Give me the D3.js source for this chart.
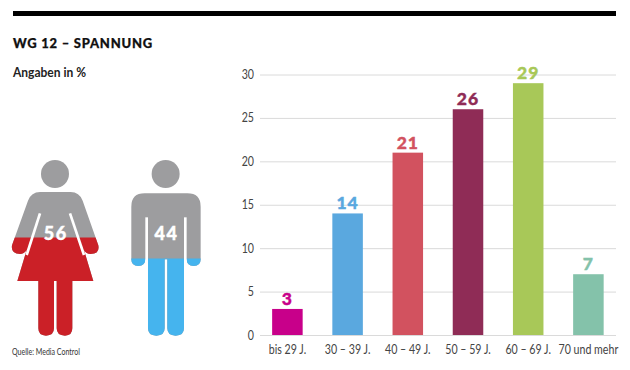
<!DOCTYPE html>
<html>
<head>
<meta charset="utf-8">
<script src="https://cdn.jsdelivr.net/npm/d3@7"></script>
<style>
  html, body { margin: 0; padding: 0; background: #fff; }
  svg { display: block; }
</style>
</head>
<body>
<div id="chart"></div>
<script>
// Age groups
const AGE_LABELS = ["bis 29 J.", "30 – 39 J.", "40 – 49 J.", "50 – 59 J.", "60 – 69 J.", "70 und mehr"];
const AGE_VALUES = [3, 14, 21, 26, 29, 7];
const AGE_COLORS = ["#C8008A", "#5AA8DF", "#D2525F", "#8F2C56", "#A8C858", "#84C2AA"];
const Y_TICKS = [0, 5, 10, 15, 20, 25, 30];

// Gender split
const GENDER_KEYS = ["f", "m"];
const GENDER_VALUES = [56, 44];
const GENDER_COLORS = ["#CB2027", "#45B4EE"];

const GREY = "#9D9D9F";
const FONT = "Lato,sans-serif";

// no condensed face is installed, so squeeze the glyphs horizontally
function condense(sel, k) {
  sel.each(function () {
    this.setAttribute("textLength", this.getComputedTextLength() * k);
    this.setAttribute("lengthAdjust", "spacingAndGlyphs");
  });
  return sel;
}

const svg = d3.select("#chart").append("svg").attr("width", 630).attr("height", 370);

// ── Header ──────────────────────────────────
svg.append("rect").attr("x", 13).attr("y", 11).attr("width", 603).attr("height", 5).attr("fill", "#000");

svg.append("text").attr("x", 13).attr("y", 48)
  .attr("font-family", FONT).attr("font-weight", 900)
  .attr("font-size", "13px").attr("letter-spacing", "0.75px").attr("fill", "#111")
  .attr("stroke", "#111").attr("stroke-width", 0.25)
  .text("WG 12 – SPANNUNG");

svg.append("text").attr("x", 13).attr("y", 76.5)
  .attr("font-family", FONT).attr("font-weight", 700)
  .attr("font-size", "13.5px").attr("fill", "#222")
  .text("Angaben in %")
  .call(condense, 0.89);

svg.append("text").attr("x", 12).attr("y", 355)
  .attr("font-family", FONT).attr("font-size", "9.5px").attr("fill", "#333")
  .text("Quelle: Media Control")
  .call(condense, 0.74);

// ── Bars ────────────────────────────────────
const x = d3.scaleBand().domain(AGE_LABELS).range([257.3, 618.5]).paddingInner(0.493).paddingOuter(0.2465);
const y = d3.scaleLinear().domain([0, 30]).range([335, 74.5]);

const yAxis = svg.append("g").attr("transform", "translate(260,0)")
  .call(d3.axisLeft(y).tickValues(Y_TICKS).tickSize(-356).tickPadding(6));
yAxis.select(".domain").remove();
yAxis.selectAll(".tick line").attr("stroke", "#DADADA").attr("stroke-width", 1);
yAxis.selectAll("text")
  .attr("font-family", FONT).attr("font-size", "12.5px").attr("fill", "#444")
  .call(condense, 0.85);

svg.selectAll(".bar").data(AGE_VALUES).join("rect")
  .attr("class", "bar")
  .attr("x", (d, i) => x(AGE_LABELS[i]))
  .attr("y", d => y(d))
  .attr("width", x.bandwidth())
  .attr("height", d => y(0) - y(d))
  .attr("fill", (d, i) => AGE_COLORS[i]);

svg.selectAll(".val").data(AGE_VALUES).join("text")
  .attr("class", "val")
  .attr("x", (d, i) => x(AGE_LABELS[i]) + x.bandwidth() / 2)
  .attr("y", d => y(d) - 4)
  .attr("text-anchor", "middle")
  .attr("font-family", FONT).attr("font-weight", 900)
  .attr("font-size", "17.5px").attr("letter-spacing", "1px")
  .attr("fill", (d, i) => AGE_COLORS[i])
  .attr("stroke", (d, i) => AGE_COLORS[i]).attr("stroke-width", 0.4)
  .text(d => d);

const xAxis = svg.append("g").attr("transform", "translate(0,335)")
  .call(d3.axisBottom(x).tickSize(0).tickPadding(10));
xAxis.select(".domain").remove();
xAxis.selectAll("text")
  .attr("font-family", FONT).attr("font-size", "12.5px").attr("fill", "#444")
  .call(condense, 0.85);

// ── Pictograms ──────────────────────────────
// silhouettes are drawn in a 3x grid, so they get scaled down by 1/3
const SHAPES = {
  f: {
    head: [165, 102, 42],
    body: "M120,156 L212,156 Q238,156 248,182 L295,316 Q300,342 272,342 Q258,342 252,330 L280,423 L217,423 " +
          "L217,565 Q217,587 195,587 Q170,587 170,565 L170,423 L162,423 L162,565 Q162,587 138,587 Q115,587 115,565 " +
          "L115,423 L52,423 L80,330 Q72,342 60,342 Q32,342 36,316 L84,182 Q94,156 120,156 Z",
    slits: ["M120,220 L80,345", "M210,220 L252,345"]
  },
  m: {
    head: [497, 102, 42],
    body: "M434,160 L562,160 Q602,160 602,200 L602,358 Q602,378 581,378 Q560,378 560,358 L552,358 L552,565 " +
          "Q552,587 527,587 Q502,587 502,565 L502,358 L494,358 L494,565 Q494,587 469,587 Q444,587 444,565 L444,358 " +
          "L436,358 Q436,378 415,378 Q394,378 394,358 L394,200 Q394,160 434,160 Z",
    slits: ["M440,232 L440,380", "M556,232 L556,380"]
  }
};

// fill level runs up the figure from feet to the top of the head
const level = d3.scaleLinear().domain([0, 100]).range([336, 160]);

const defs = svg.append("defs");

GENDER_KEYS.forEach((key, i) => {
  const shape = SHAPES[key];
  defs.append("clipPath").attr("id", `fill-${key}`)
    .append("rect").attr("x", 0).attr("width", 220)
    .attr("y", level(GENDER_VALUES[i]))
    .attr("height", level(0) - level(GENDER_VALUES[i]));

  const draw = (parent, color) => {
    const g = parent.append("g").attr("transform", "translate(0,140) scale(0.3333)");
    g.append("circle").attr("cx", shape.head[0]).attr("cy", shape.head[1]).attr("r", shape.head[2]).attr("fill", color);
    g.append("path").attr("d", shape.body).attr("fill", color);
    return g;
  };

  draw(svg, GREY);
  draw(svg.append("g").attr("clip-path", `url(#fill-${key})`), GENDER_COLORS[i]);

  const top = svg.append("g").attr("transform", "translate(0,140) scale(0.3333)");
  shape.slits.forEach(s => {
    top.append("path").attr("d", s).attr("fill", "none")
      .attr("stroke", "#fff").attr("stroke-width", 8);
  });

  svg.append("text")
    .attr("x", shape.head[0] / 3 + 0.8)
    .attr("y", 240)
    .attr("text-anchor", "middle")
    .attr("font-family", FONT).attr("font-weight", 900)
    .attr("font-size", "18px").attr("letter-spacing", "1.5px")
    .attr("fill", "#fff")
    .attr("stroke", "#fff").attr("stroke-width", 0.4)
    .text(GENDER_VALUES[i]);
});
</script>
</body>
</html>
